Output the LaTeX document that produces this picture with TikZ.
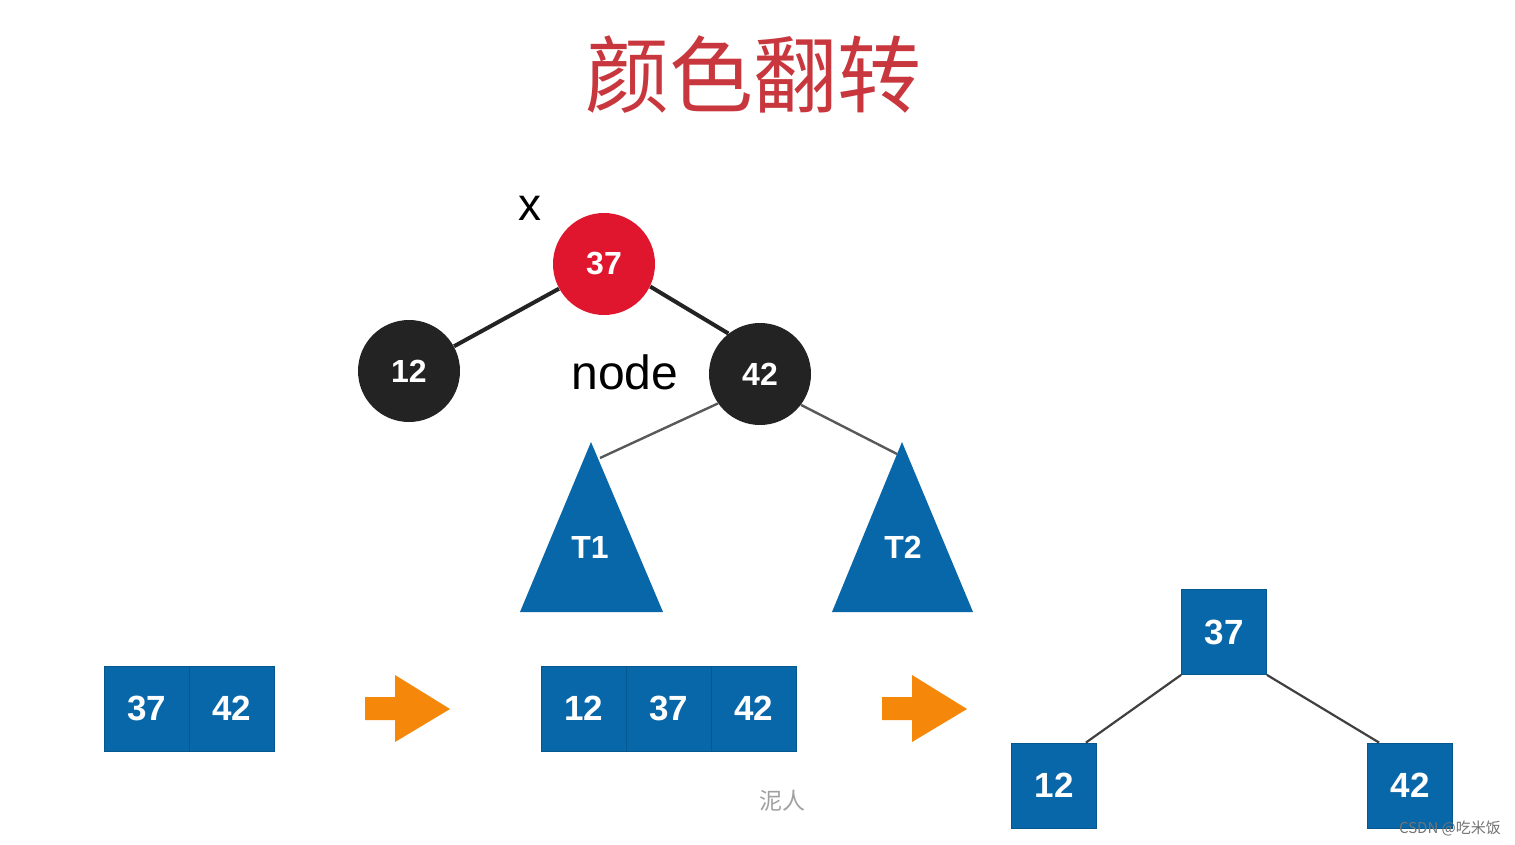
\documentclass[tikz,border=0pt]{standalone}
\usepackage{fontspec}
\setmainfont{Liberation Sans}
\newfontfamily\cjk{Noto Sans CJK SC}
\usetikzlibrary{calc}
\definecolor{titlered}{HTML}{C8373D}
\definecolor{rbred}{HTML}{E0162F}
\definecolor{rbblack}{HTML}{232323}
\definecolor{tblue}{HTML}{0867A8}
\definecolor{tblueedge}{HTML}{05588F}
\definecolor{arrowor}{HTML}{F5870A}
\definecolor{wmgray}{HTML}{A0A0A0}
\tikzset{
  rbnode/.style={circle, minimum size=51pt, inner sep=0pt, text=white, font=\bfseries\fontsize{16}{16}\selectfont},
  redn/.style={rbnode, fill=rbred},
  blackn/.style={rbnode, fill=rbblack},
  cell/.style={rectangle, minimum size=42.5pt, inner sep=0pt, fill=tblue, draw=tblueedge, line width=0.4pt, text=white, font=\bfseries\fontsize{17.5}{17.5}\selectfont},
  thickedge/.style={line width=2pt, rbblack},
  thinedge/.style={line width=1.2pt, black!65},
  sqedge/.style={line width=1.1pt, black!75},
  subtree/.style={fill=tblue},
  subtreelabel/.style={text=white, font=\bfseries\fontsize{16}{16}\selectfont},
  bigarrow/.style={fill=arrowor},
}
\begin{document}
\begin{tikzpicture}[x=0.5pt,y=-0.5pt]
\useasboundingbox (0,0) rectangle (1515,845);
\fill[white] (0,0) rectangle (1515,845);

% title
\node[text=titlered, font=\cjk\fontsize{42}{42}\selectfont] (title) at (753,75) {颜色翻转};

% red-black tree
\node[font=\fontsize{23}{23}\selectfont] (xlab) at (530,208) {x};
\node[redn] (n37) at (604,264) {37};
\node[blackn] (n12) at (409,371) {12};
\node[blackn] (n42) at (760,374) {42};
\node[font=\fontsize{24}{24}\selectfont] (nodelab) at (625,372) {node};

\coordinate (t1a) at (591,442);
\coordinate (t2a) at (902,442);
\draw[thinedge] (n42.215) -- (600,458) coordinate (t1hit);
\draw[thinedge] (n42.323) -- (897,454) coordinate (t2hit);
\fill[subtree] (t1a) -- (663,612) -- (520,612) -- cycle;
\fill[subtree] (t2a) -- (973,612) -- (832,612) -- cycle;
\node[subtreelabel] (t1) at (590,547) {T1};
\node[subtreelabel] (t2) at (903,547) {T2};

\draw[thickedge] (n37) -- (n12);
\draw[thickedge] (n37.-26) -- (n42.128);

% row 1
\node[cell] (a37) at (146.5,708.5) {37};
\node[cell] (a42) at (231.5,708.5) {42};

% arrow 1
\fill[bigarrow] (365,697) -- (395,697) -- (395,675) -- (450,709) -- (395,742) -- (395,720) -- (365,720) -- cycle;

% row 2
\node[cell] (b12) at (583.5,708.5) {12};
\node[cell] (b37) at (668.5,708.5) {37};
\node[cell] (b42) at (753.5,708.5) {42};

% arrow 2
\fill[bigarrow] (882,697) -- (912,697) -- (912,675) -- (967,709) -- (912,742) -- (912,720) -- (882,720) -- cycle;

% resulting tree
\node[cell] (s37) at (1224,632) {37};
\node[cell] (s12) at (1054,785.5) {12};
\node[cell] (s42) at (1410,785.5) {42};
\draw[sqedge] (s37.south west) -- ($(s12.north east)+(-11,0)$);
\draw[sqedge] (s37.south east) -- ($(s42.north west)+(12,0)$);

% watermarks
\node[text=wmgray, font=\cjk\fontsize{11.5}{11.5}\selectfont] (wm1) at (782,801) {泥人};
\node[text=black!55, font=\cjk\fontsize{7.5}{7.5}\selectfont] (wm2) at (1450,828) {CSDN @吃米饭};
\end{tikzpicture}
\end{document}
